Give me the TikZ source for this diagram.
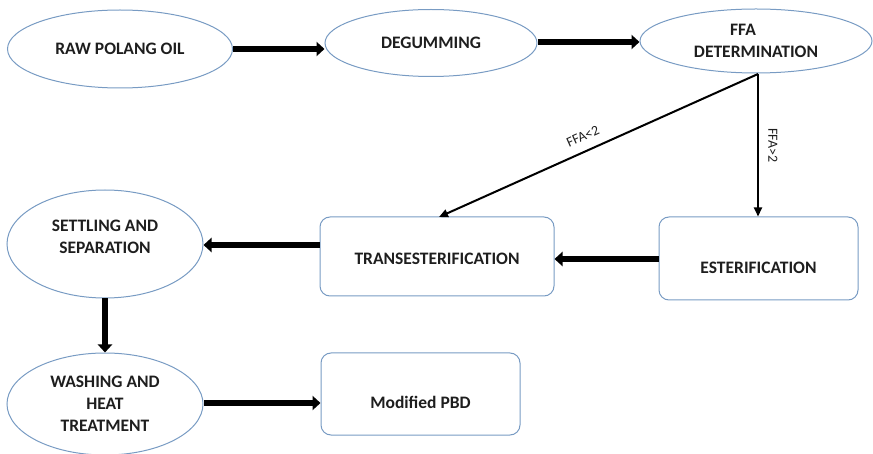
\documentclass[tikz,border=0pt]{standalone}
\usepackage{fontspec}
\setmainfont{Carlito}
\usetikzlibrary{shapes.geometric,arrows.meta}
\definecolor{edgeblue}{RGB}{120,155,195}
\definecolor{txt}{RGB}{30,30,30}
\tikzset{
  ell/.style={ellipse, draw=edgeblue, line width=1pt, inner sep=0pt, align=center, font=\bfseries\fontsize{17.5}{22}\selectfont, text=txt},
  rbox/.style={rectangle, rounded corners=10pt, draw=edgeblue, line width=1pt, inner sep=0pt, align=center, font=\bfseries\fontsize{17.5}{22}\selectfont, text=txt},
  thick arrow/.style={line width=5.5pt, -{Triangle[length=8pt,width=14pt]}},
  thin arrow/.style={line width=2pt, -{Triangle[length=9pt,width=8pt]}},
  lab/.style={font=\fontsize{14}{16}\selectfont, text=txt}
}
\begin{document}
\begin{tikzpicture}[x=1pt,y=-1pt]
\useasboundingbox (0,0) rectangle (873,454);
\node[ell, minimum width=225pt, minimum height=78pt] (raw) at (120,49) {RAW POLANG OIL};
\node[ell, minimum width=212pt, minimum height=67pt] (deg) at (431,43) {DEGUMMING};
\node[ell, minimum width=232pt, minimum height=64pt] (ffa) at (756,41) {\hspace*{-26pt}FFA\\DETERMINATION};
\node[ell, minimum width=196pt, minimum height=108pt] (set) at (105,244) {SETTLING AND\\SEPARATION\rule[-14pt]{0pt}{0pt}};
\node[ell, minimum width=196pt, minimum height=102pt] (wash) at (105,404) {WASHING AND\\HEAT\\TREATMENT};
\node[rbox, minimum width=234pt, minimum height=79pt] (trans) at (437,256.5) {\rule{0pt}{16pt}TRANSESTERIFICATION};
\node[rbox, minimum width=199pt, minimum height=83pt] (est) at (758.5,258.5) {\rule{0pt}{30pt}ESTERIFICATION};
\node[rbox, minimum width=199pt, minimum height=82pt] (mod) at (420.5,394) {\rule{0pt}{30pt}Modified PBD};
\coordinate (ffab) at (758,74);
\draw[thick arrow] (raw.east |- 0,49) -- (deg.west |- 0,49);
\draw[thick arrow] (deg.east |- 0,42) -- (ffa.west |- 0,42);
\draw[thin arrow] (ffab) -- node[lab, rotate=-90, anchor=south, yshift=6pt, pos=0.5] {FFA>2} (est.north -| ffab);
\coordinate (tt) at (439,217);
\draw[thin arrow] (ffab) -- node[lab, sloped, above=6pt, pos=0.53] {FFA<2} (tt);
\draw[thick arrow] (est.west |- 0,259) -- (trans.east |- 0,259);
\draw[thick arrow] (trans.west |- 0,245) -- (set.east |- 0,245);
\draw[thick arrow] (set.south) -- (wash.north);
\draw[thick arrow] (wash.east |- 0,403) -- (mod.west |- 0,403);
\end{tikzpicture}
\end{document}
